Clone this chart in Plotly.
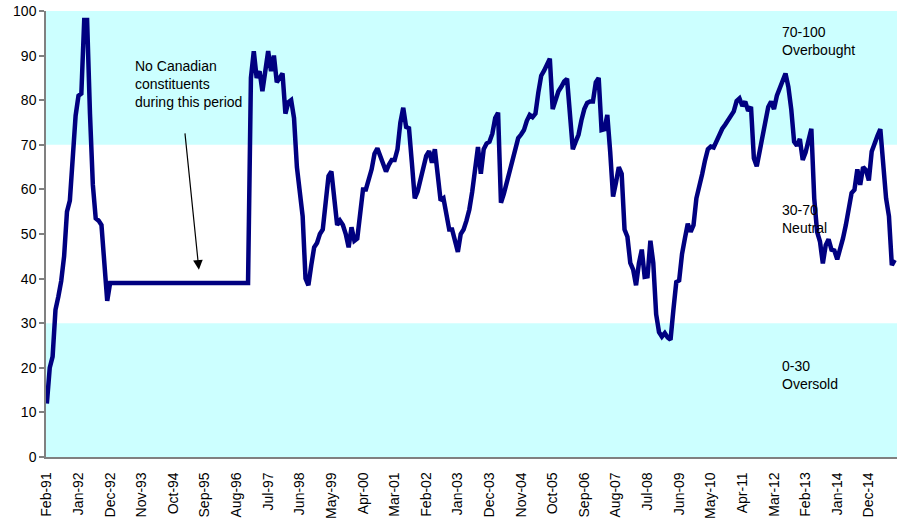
import pandas as pd
import plotly.graph_objects as go

# Monthly RSI values, Feb-91 onward
rsi_values = [
    12, 20, 22.5, 33, 36, 39.5, 45, 55, 57.5, 68, 76.5, 81, 81.5, 98, 98, 77, 61, 53.5, 53, 52, 44, 35,
    39, 39, 39, 39, 39, 39, 39, 39, 39, 39, 39, 39, 39, 39, 39, 39, 39, 39, 39, 39, 39, 39, 39, 39,
    39, 39, 39, 39, 39, 39, 39, 39, 39, 39, 39, 39, 39, 39, 39, 39, 39, 39, 39, 39, 39, 39, 39, 39, 39,
    85, 91, 85, 86.5, 82, 87, 91, 86.5, 90, 84, 85, 86, 77, 79.5, 80, 76, 65, 59, 54, 40, 38.5,
    43, 47, 48, 50, 51, 57, 63, 64, 57, 52, 53, 52, 50, 47, 51.5, 48.5, 49, 55, 60, 60,
    62, 64.5, 68, 69.2, 67.5, 65.5, 64, 65.5, 66.6, 66.6, 69, 75, 78.3, 74, 73.7, 66, 58, 59.5, 62.5, 65.5,
    67.5, 68.6, 66, 69, 62, 57.5, 58, 55, 51, 51, 48.5, 46, 50, 51, 53, 55.5, 59.5, 64, 69.5, 63.5,
    69, 70.3, 70.7, 72.5, 76, 77.2, 57, 59, 61.5, 64.5, 67, 69, 71.5, 72.3, 73.3, 75.4, 76.7, 76.2, 77, 81.7,
    85.5, 86.6, 87.8, 89.3, 78, 80.5, 82, 83, 84.2, 84.8, 75.5, 69, 70.7, 72.3, 75.5, 78, 79.4, 79.7, 79.7, 84,
    85, 73.3, 73.5, 76.7, 68.5, 58.4, 61.5, 65, 63.5, 51, 49.4, 43.5, 42, 38.5, 43.4, 46.5, 40.4, 40.5, 48.5, 43.5,
    32, 28, 27, 27.8, 26.8, 26.3, 33, 39.2, 39.6, 45.5, 49, 52.3, 50.5, 52, 58, 60.4, 63.4, 66.5, 69, 69.6,
    69.4, 70.8, 72.3, 73.6, 74.5, 75.5, 76.6, 77.5, 79.8, 80.4, 78.7, 79.7, 77.6, 78.5, 67, 65.2, 68.5, 72, 75.5, 78.5,
    79.7, 78, 81, 82.5, 84, 86, 83, 78, 70.7, 69.8, 71.3, 66.6, 68.3, 71, 73.6, 58, 50.5, 48.3, 43.4, 47.5,
    48.8, 46.5, 46.3, 44.3, 46.4, 49, 52, 56.4, 59.2, 59.9, 64.5, 61, 65, 64.3, 62, 68.5, 70.5, 72, 73.5, 64,
    58, 54, 43, 44.2,
]

months = list(pd.date_range("1991-02-01", periods=len(rsi_values), freq="MS").strftime("%b-%y"))

tick_labels = [
    "Feb-91", "Jan-92", "Dec-92", "Nov-93", "Oct-94", "Sep-95", "Aug-96", "Jul-97", "Jun-98",
    "May-99", "Apr-00", "Mar-01", "Feb-02", "Jan-03", "Dec-03", "Nov-04", "Oct-05", "Sep-06",
    "Aug-07", "Jul-08", "Jun-09", "May-10", "Apr-11", "Mar-12", "Feb-13", "Jan-14", "Dec-14",
]

zone_bands = [(70, 100), (0, 30)]
zone_texts = ["70-100<br>Overbought", "30-70<br>Neutral", "0-30<br>Oversold"]
zone_text_y = [97.6, 57.6, 22.6]

FONT = "Liberation Sans, Arial, sans-serif"

fig = go.Figure()
fig.add_trace(go.Scatter(
    x=months, y=rsi_values, mode="lines",
    line=dict(color="#000080", width=4.5),
    showlegend=False, hoverinfo="skip",
))

for lo, hi in zone_bands:
    fig.add_shape(type="rect", xref="paper", yref="y", x0=0, x1=1, y0=lo, y1=hi,
                  fillcolor="#CCFFFF", line=dict(width=0), layer="below")

for txt, yv in zip(zone_texts, zone_text_y):
    fig.add_annotation(x=255, y=yv, xref="x", yref="y", text=txt, showarrow=False,
                       xanchor="left", yanchor="top", align="left",
                       font=dict(family=FONT, size=14, color="#000000"))

fig.add_annotation(x=29.9, y=89.8, xref="x", yref="y",
                   text="No Canadian<br>constituents<br>during this period",
                   showarrow=False, xanchor="left", yanchor="top", align="left",
                   font=dict(family=FONT, size=14, color="#000000"))

fig.add_annotation(x=52.9, y=42.0, ax=48.0, ay=72.9, xref="x", yref="y",
                   axref="x", ayref="y", text="", showarrow=True,
                   arrowhead=2, arrowsize=1.6, arrowwidth=1.2, arrowcolor="#000000")

fig.update_layout(
    width=899, height=519,
    margin=dict(l=46, r=2, t=11, b=62, pad=0, autoexpand=False),
    paper_bgcolor="white", plot_bgcolor="white",
    font=dict(family=FONT, size=14, color="#000000"),
)
fig.update_xaxes(
    type="category", range=[-0.3, 295.8], automargin=False,
    tickmode="array", tickvals=[months[i] for i in range(0, len(months), 11)][:len(tick_labels)],
    ticktext=tick_labels, tickangle=-90,
    showgrid=False, zeroline=False,
    showline=True, linecolor="#808080", linewidth=1.5,
    ticks="", ticklabelstandoff=8,
    tickfont=dict(family=FONT, size=14, color="#000000"),
)
fig.update_yaxes(
    range=[0, 100], dtick=10, showgrid=False, zeroline=False, automargin=False,
    showline=True, linecolor="#808080", linewidth=1.5,
    ticks="outside", ticklen=5, tickcolor="#808080", tickwidth=1.5,
    tickfont=dict(family=FONT, size=14, color="#000000"),
)

fig.write_html("out.html", config={"displayModeBar": False},
               post_script="document.body.style.margin='0';")
